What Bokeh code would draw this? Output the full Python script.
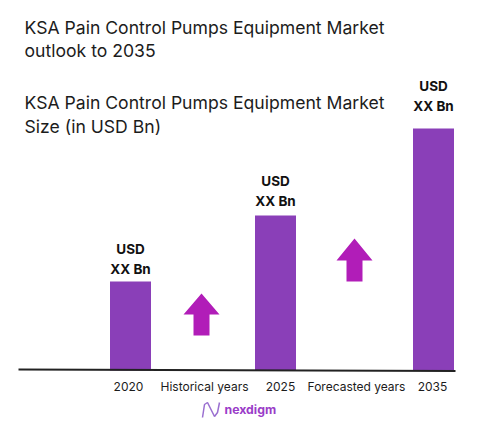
from bokeh.core.properties import value
from bokeh.embed import file_html
from bokeh.models import ColumnDataSource, FactorRange, Range1d
from bokeh.plotting import figure
from bokeh.resources import INLINE

# ---- data (values are on an arbitrary scale: the source hides them as "XX")
axis_labels = ["2020", "Historical years", "2025", "Forecasted years", "2035"]
bar_years = ["2020", "2025", "2035"]
bar_values = [89, 155, 242]
value_line_1 = ["USD", "USD", "USD"]
value_line_2 = ["XX Bn", "XX Bn", "XX Bn"]
title_lines = ["KSA Pain Control Pumps Equipment Market", "outlook to 2035",
               "KSA Pain Control Pumps Equipment Market", "Size (in USD Bn)"]
logo_text = ["nexdigm"]

# ---- layout and style
W, H = 485, 418
SLOT = 76.0
FRAME_LEFT = 14
TEXT = "#1c1c1c"
BAR = "#8a3fb8"
ARROW = "#b11db8"
FONT = "Inter"
PAD = " "


def fx(page_x):
    """Offset from the 2020 slot for a page pixel position (annotations only)."""
    return ["2020", (page_x - 128) / SLOT]


def fy(page_y):
    return 370 - page_y


p = figure(width=W, height=H, output_backend="svg", toolbar_location=None,
           x_range=FactorRange(factors=[PAD] + axis_labels, range_padding=0, factor_padding=0),
           y_range=Range1d(-48, 370), min_border_left=FRAME_LEFT,
           min_border_right=W - FRAME_LEFT - int(6 * SLOT),
           min_border_top=0, min_border_bottom=0, outline_line_color=None)
p.grid.visible = False
p.yaxis.visible = False
p.background_fill_color = "white"
ax = p.xaxis[0]
ax.fixed_location = 0
ax.axis_line_color = None
ax.major_tick_line_color = None
ax.minor_tick_line_color = None
ax.major_tick_in = 0
ax.major_tick_out = 0
ax.major_label_standoff = 8
ax.major_label_text_font = FONT
ax.major_label_text_font_size = "12px"
ax.major_label_text_color = TEXT
ax.major_label_orientation = "horizontal"

# bars
bar_offsets = [2 / SLOT, -5 / SLOT, 1 / SLOT]
bars = ColumnDataSource(dict(x=[[c, o] for c, o in zip(bar_years, bar_offsets)], top=bar_values,
                             l1=value_line_1, l2=value_line_2,
                             o1=[-33, -35, -43], o2=[-13, -15, -23]))
p.vbar(x="x", top="top", bottom=0, width=41 / SLOT, source=bars, fill_color=BAR, line_color=None)
for text, offset in (("l1", "o1"), ("l2", "o2")):
    p.text(x="x", y="top", text=text, y_offset=offset, source=bars, text_align="center",
           text_baseline="middle", text_font=value(FONT), text_font_size="13.5px",
           text_font_style="bold", text_color="#111111")

# baseline
p.line(x=[fx(18), fx(455)], y=[fy(369), fy(370.6)], line_color="#222222", line_width=2)


# growth arrows between the bars
def arrow(cx, tip, head_y, end_y, half_head, half_shaft):
    xs = [cx, cx + half_head, cx + half_shaft, cx + half_shaft, cx - half_shaft, cx - half_shaft,
          cx - half_head]
    ys = [tip, head_y, head_y, end_y, end_y, head_y, head_y]
    p.patch(x=[fx(v) for v in xs], y=[fy(v) for v in ys], fill_color=ARROW, line_color=None)


arrow(201, 293, 314, 335, 18, 8)
arrow(354, 238, 260, 281, 18, 8)

# titles
for line, y in zip(title_lines, (27, 49.5, 102, 125.5)):
    p.text(x=[fx(24)], y=[fy(y)], text=[line], text_font=value(FONT), text_font_size="17.6px",
           text_color=TEXT, text_baseline="middle", text_align="left")

# logo
p.text(x=[fx(224)], y=[fy(409)], text=logo_text, text_font=value(FONT), text_font_size="12.3px",
       text_font_style="bold", text_color="#9a3cc8", text_baseline="middle", text_align="left")
p.line(x=[fx(v) for v in (202, 204, 207, 211, 214, 217, 219)],
       y=[fy(v) for v in (417, 404, 402, 410, 416, 412, 402)], line_color="#9a6fd0", line_width=1.5)

open("out.html", "w").write(file_html(p, INLINE))
